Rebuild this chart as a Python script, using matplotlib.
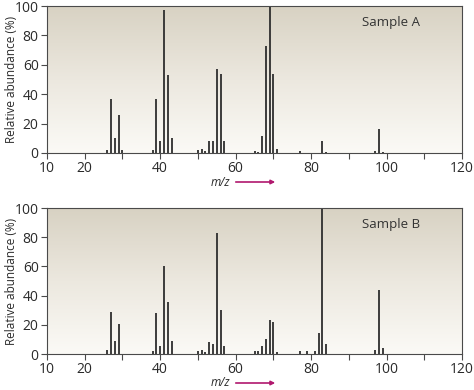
import numpy as np
import matplotlib
matplotlib.use("Agg")
import matplotlib.pyplot as plt
from matplotlib.colors import LinearSegmentedColormap

# ---- data ----
mz_a = [26, 27, 28, 29, 30, 38, 39, 40, 41, 42, 43, 50, 51, 52, 53, 54, 55, 56, 57,
        65, 66, 67, 68, 69, 70, 71, 77, 83, 84, 97, 98, 99]
ab_a = [2, 37, 10, 26, 2, 2, 37, 8, 97, 53, 10, 2, 2.5, 1.5, 8, 8, 57, 54, 8,
        1.5, 1, 11.5, 73, 100, 54, 3, 1.5, 8, 1, 1.5, 16, 1]

mz_b = [26, 27, 28, 29, 38, 39, 40, 41, 42, 43, 50, 51, 52, 53, 54, 55, 56, 57,
        65, 66, 67, 68, 69, 70, 71, 77, 79, 81, 82, 83, 84, 97, 98, 99]
ab_b = [2.5, 29, 9, 20.5, 2, 28, 5.5, 60.5, 35.5, 9, 2.3, 3, 1.5, 8, 7, 83, 30, 5.5,
        2, 2, 5.5, 10.5, 23, 22, 1.5, 2, 2, 2.3, 14.5, 100, 7, 3, 44, 4]

sample_labels = ["Sample A", "Sample B"]
x_ticks = [10, 20, 30, 40, 50, 60, 70, 80, 90, 100, 110, 120]
x_ticklabels = ["10", "20", "", "40", "", "60", "", "80", "", "100", "", "120"]
y_ticks = [0, 20, 40, 60, 80, 100]

plt.rcParams['font.family'] = ['Open Sans', 'DejaVu Sans']

fig = plt.figure(figsize=(4.74, 3.90), dpi=100)
fig.patch.set_facecolor('white')

cmap = LinearSegmentedColormap.from_list('bg', ['#fbfaf6', '#ece8df', '#d8d2c3'])
grad = np.linspace(0, 1, 256).reshape(-1, 1)

axes_rects = [
    [47/474, 1 - 153/390, 415/474, 147/390],
    [47/474, 1 - 354/390, 415/474, 146/390],
]
data = [(mz_a, ab_a), (mz_b, ab_b)]
arrow_y = [1 - 182/390, 1 - 383/390]

spine_c = '#4a4a4a'
for i, (rect, (mz, ab)) in enumerate(zip(axes_rects, data)):
    ax = fig.add_axes(rect)
    ax.set_xlim(10, 120)
    ax.set_ylim(0, 100)
    ax.imshow(grad, cmap=cmap, origin='lower', aspect='auto',
              extent=[10, 120, 0, 100], zorder=0, interpolation='bilinear')
    ax.vlines(mz, 0, ab, colors='#2e2e2e', linewidth=1.3, zorder=2)
    ax.set_xticks(x_ticks)
    ax.set_xticklabels(x_ticklabels)
    ax.set_yticks(y_ticks)
    ax.tick_params(direction='out', length=4, width=0.8, color=spine_c,
                   labelsize=10, labelcolor='#2a2a2a', pad=2)
    for s in ax.spines.values():
        s.set_color(spine_c)
        s.set_linewidth(0.8)
    ax.set_ylabel('Relative abundance (%)', fontsize=8.5, color='#2a2a2a',
                  va='center')
    ax.yaxis.set_label_coords(-0.085, 0.5)
    ax.text(0.83, 0.89, sample_labels[i], transform=ax.transAxes, fontsize=9.5,
            color='#333333', ha='center', va='center')
    # m/z label with arrow
    fig.text(220/474, arrow_y[i], 'm/z', fontsize=8.5, style='italic',
             ha='center', va='center', color='#2a2a2a')
    fig.patches.append(matplotlib.patches.FancyArrowPatch(
        (233/474, arrow_y[i]), (278/474, arrow_y[i]),
        transform=fig.transFigure, arrowstyle='-|>', mutation_scale=6,
        color='#b0186e', linewidth=1.2))

fig.savefig('out.png', dpi=100)
